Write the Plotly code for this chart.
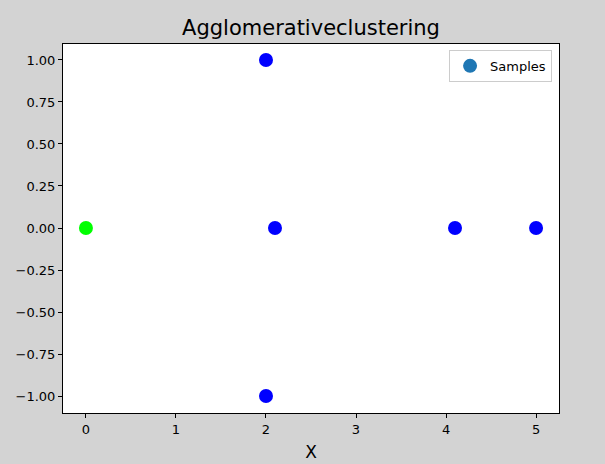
import plotly.graph_objects as go

# Data
x_vals = [0, 2, 2.1, 4.1, 5, 2]
y_vals = [0, 1, 0, 0, 0, -1]
point_colors = ["#00ff00", "#0000ff", "#0000ff", "#0000ff", "#0000ff", "#0000ff"]
legend_label = "Samples"
legend_color = "#1f77b4"
x_ticks = [0, 1, 2, 3, 4, 5]
y_ticks = [1.0, 0.75, 0.5, 0.25, 0.0, -0.25, -0.5, -0.75, -1.0]

fig = go.Figure()
fig.add_trace(go.Scatter(
    x=x_vals, y=y_vals, mode="markers",
    marker=dict(color=point_colors, size=14, line=dict(width=0)),
    showlegend=False, hoverinfo="x+y",
))
fig.add_trace(go.Scatter(
    x=[None], y=[None], mode="markers", name=legend_label,
    marker=dict(color=legend_color, size=14),
))

y_text = [f"{v:.2f}".replace("-", "\u2212") for v in y_ticks]

axis_common = dict(
    showline=True, linecolor="black", linewidth=1, mirror=True,
    ticks="outside", ticklen=4, tickcolor="black", tickwidth=1,
    showgrid=False, zeroline=False, automargin=False,
    tickfont=dict(family="DejaVu Sans", size=13, color="black"),
)

fig.update_layout(
    width=605, height=464,
    paper_bgcolor="#d3d3d3", plot_bgcolor="white",
    margin=dict(l=63, r=46, t=44, b=51),
    title=dict(text="Agglomerativeclustering", x=(63 + 559) / 2 / 605, xanchor="center",
               y=1 - 28 / 464, yanchor="middle",
               font=dict(family="DejaVu Sans", size=21, color="black")),
    xaxis=dict(range=[-0.255, 5.255], tickvals=x_ticks, ticktext=[str(t) for t in x_ticks],
               title=dict(text="X", font=dict(family="DejaVu Sans", size=17, color="black"), standoff=10),
               **axis_common),
    yaxis=dict(range=[-1.101, 1.095], tickvals=y_ticks, ticktext=y_text, **axis_common),
    legend=dict(x=0.986, xanchor="right", y=0.984, yanchor="top",
                bgcolor="white", bordercolor="#cccccc", borderwidth=1,
                font=dict(family="DejaVu Sans", size=13, color="black")),
    font=dict(family="DejaVu Sans"),
)

fig.write_html(
    "out.html",
    config={"displayModeBar": False},
    post_script="document.body.style.margin='0';document.body.style.background='#d3d3d3';",
)
